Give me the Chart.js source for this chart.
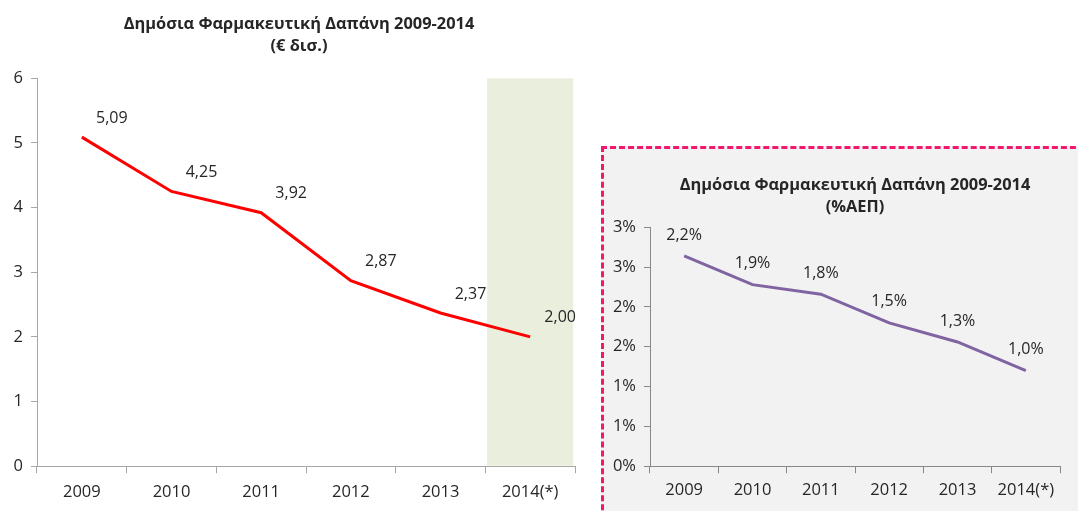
<!DOCTYPE html>
<html>
<head>
<meta charset="utf-8">
<script src="https://cdn.jsdelivr.net/npm/chart.js@4/dist/chart.umd.min.js"></script>
<style>
  html, body { margin: 0; padding: 0; background: #fff; }
  #wrap { position: relative; width: 1078px; height: 511px; overflow: hidden; }
  #left { position: absolute; left: 0; top: 0; width: 598px; height: 511px; }
  #box { position: absolute; left: 601px; top: 146px; width: 520px; height: 400px;
         background: #f2f2f2; border: 3px dashed #f0196e; box-sizing: border-box; }
  #right { position: absolute; left: 0; top: 0; width: 502px; height: 358px; }
</style>
</head>
<body>
<div id="wrap">
  <div id="left"><canvas id="spendChart"></canvas></div>
  <div id="box"><div id="right"><canvas id="gdpChart"></canvas></div></div>
</div>
<script>
// --- DATA ---
const years = ['2009', '2010', '2011', '2012', '2013', '2014(*)'];
const spendBillions = [5.09, 4.25, 3.92, 2.87, 2.37, 2.00];
const forecastBand = [null, null, null, null, null, 6];
const spendTicks = ['0', '1', '2', '3', '4', '5', '6'];

const gdpPercent = [2.2, 1.9, 1.8, 1.5, 1.3, 1.0];
const gdpTickLabels = ['0%', '1%', '1%', '2%', '2%', '3%', '3%'];
const gdpAxisMax = 2.5;

const FONT = "'Open Sans', 'Noto Sans', sans-serif";
const TEXT = '#262626';
const AXIS = '#a6a6a6';

// draws value labels next to the line points (no datalabels plugin available)
const valueLabels = {
    id: 'valueLabels',
    afterDatasetsDraw(chart, args, opts) {
        const ctx = chart.ctx;
        const meta = chart.getDatasetMeta(opts.dataset);
        const values = chart.data.datasets[opts.dataset].data;
        ctx.save();
        ctx.font = '16px ' + FONT;
        ctx.fillStyle = TEXT;
        ctx.textAlign = 'center';
        ctx.textBaseline = 'middle';
        meta.data.forEach((pt, i) => {
            const txt = values[i].toFixed(opts.decimals).replace('.', ',') + opts.suffix;
            ctx.fillText(txt, pt.x + opts.dx, pt.y + opts.dy);
        });
        ctx.restore();
    }
};

// empty right-hand axis, only to reserve room so the title sits where the original has it
const spacerAxis = (w) => ({
    position: 'right',
    display: true,
    border: { display: false },
    grid: { display: false },
    ticks: { display: false },
    afterFit: (s) => { s.width = w; }
});

// --- LEFT CHART: € billions ---
new Chart(document.getElementById('spendChart'), {
    data: {
        labels: years,
        datasets: [
            {
                type: 'line',
                data: spendBillions,
                borderColor: '#ff0000',
                borderWidth: 3,
                pointRadius: 0,
                tension: 0,
                order: 0
            },
            {
                type: 'bar',
                data: forecastBand,
                backgroundColor: '#eaeedd',
                barPercentage: 0.96,
                categoryPercentage: 1,
                order: 1
            }
        ]
    },
    options: {
        responsive: true,
        maintainAspectRatio: false,
        animation: false,
        layout: { padding: { left: 0, right: 0, top: 0, bottom: 0 } },
        plugins: {
            legend: { display: false },
            tooltip: { enabled: false },
            title: {
                display: true,
                text: ['Δημόσια Φαρμακευτική Δαπάνη 2009-2014', '(€ δισ.)'],
                color: TEXT,
                font: { family: FONT, size: 16.4, weight: 'bold', lineHeight: 1.35 },
                padding: { top: 13, bottom: 21 }
            },
            valueLabels: { dataset: 0, dx: 30, dy: -19, decimals: 2, suffix: '' }
        },
        scales: {
            x: {
                offset: true,
                border: { color: AXIS },
                grid: { drawOnChartArea: false, offset: true, tickLength: 7, color: AXIS },
                ticks: { color: TEXT, font: { family: FONT, size: 16.5 }, padding: 9 }
            },
            y: {
                min: 0, max: 6,
                border: { color: AXIS },
                grid: { drawOnChartArea: false, tickLength: 6, color: AXIS },
                ticks: {
                    stepSize: 1,
                    color: TEXT,
                    font: { family: FONT, size: 16.5 },
                    padding: 8,
                    callback: (v, i) => spendTicks[i]
                },
                afterFit: (s) => { s.width = 37; }
            },
            spacer: spacerAxis(23)
        }
    },
    plugins: [valueLabels]
});

// --- RIGHT CHART: % of GDP ---
new Chart(document.getElementById('gdpChart'), {
    type: 'line',
    data: {
        labels: years,
        datasets: [{
            data: gdpPercent,
            borderColor: '#8064a2',
            borderWidth: 3,
            pointRadius: 0,
            tension: 0
        }]
    },
    options: {
        responsive: true,
        maintainAspectRatio: false,
        animation: false,
        layout: { padding: { left: 0, right: 0, top: 0, bottom: 0 } },
        plugins: {
            legend: { display: false },
            tooltip: { enabled: false },
            title: {
                display: true,
                text: ['Δημόσια Φαρμακευτική Δαπάνη 2009-2014', '(%ΑΕΠ)'],
                color: TEXT,
                font: { family: FONT, size: 16.4, weight: 'bold', lineHeight: 1.35 },
                padding: { top: 25, bottom: 9 }
            },
            valueLabels: { dataset: 0, dx: 0, dy: -21, decimals: 1, suffix: '%' }
        },
        scales: {
            x: {
                offset: true,
                border: { color: '#888' },
                grid: { drawOnChartArea: false, offset: true, tickLength: 7, color: '#888' },
                ticks: { color: TEXT, font: { family: FONT, size: 16.5 }, padding: 7 }
            },
            y: {
                min: 0, max: gdpAxisMax,
                border: { color: '#888' },
                grid: { drawOnChartArea: false, tickLength: 6, color: '#888' },
                afterBuildTicks: (s) => {
                    s.ticks = gdpTickLabels.map((t, i) => ({ value: i * gdpAxisMax / (gdpTickLabels.length - 1) }));
                },
                ticks: {
                    color: TEXT,
                    font: { family: FONT, size: 16.5 },
                    padding: 8,
                    callback: (v, i) => gdpTickLabels[i]
                },
                afterFit: (s) => { s.width = 46; }
            },
            spacer: spacerAxis(46)
        }
    },
    plugins: [valueLabels]
});
</script>
</body>
</html>
